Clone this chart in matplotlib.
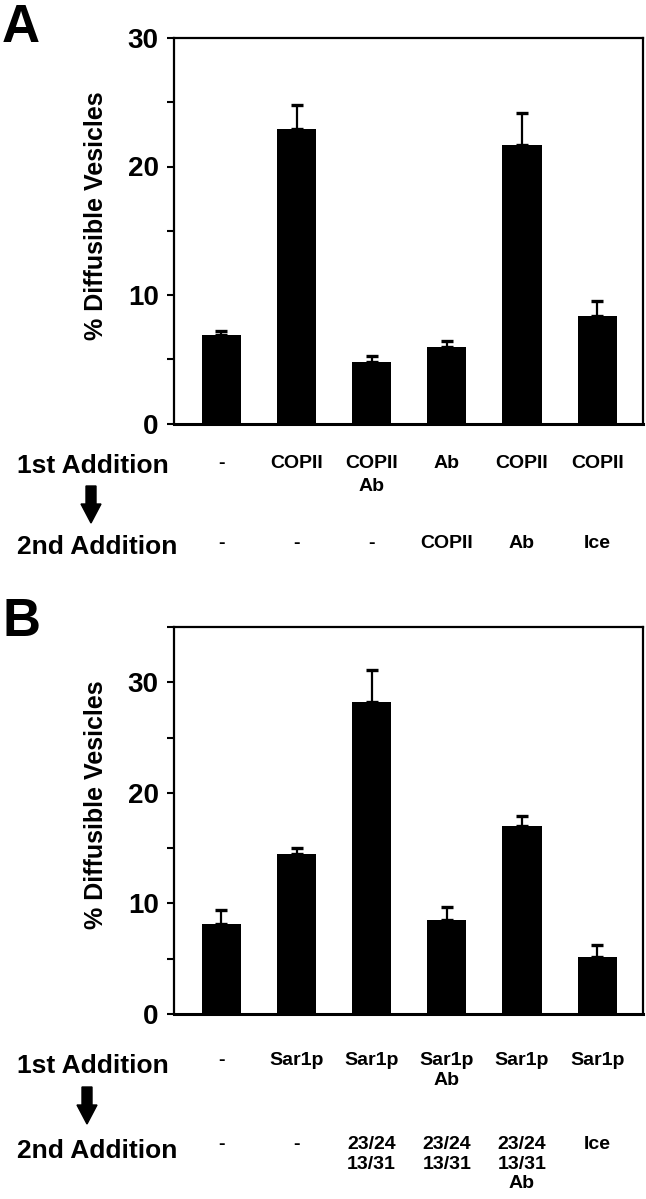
import matplotlib
matplotlib.use("Agg")
import matplotlib.pyplot as plt
import matplotlib.transforms as mtransforms
from matplotlib.patches import FancyArrow

plt.rcParams["font.family"] = ["Liberation Sans", "DejaVu Sans"]
plt.rcParams["font.weight"] = "bold"

# ---- data
a_vals = [6.9, 22.9, 4.8, 5.95, 21.65, 8.4]
a_err = [0.26, 1.86, 0.49, 0.44, 2.5, 1.1]
a_first = ["-", "COPII", "COPII\nAb", "Ab", "COPII", "COPII"]
a_second = ["-", "-", "-", "COPII", "Ab", "Ice"]

b_vals = [8.15, 14.45, 28.2, 8.5, 17.0, 5.2]
b_err = [1.27, 0.52, 2.9, 1.21, 0.94, 1.06]
b_first = ["-", "Sar1p", "Sar1p", "Sar1p\nAb", "Sar1p", "Sar1p"]
b_second = ["-", "-", "23/24\n13/31", "23/24\n13/31", "23/24\n13/31\nAb", "Ice"]

W, H = 646, 1199
fig = plt.figure(figsize=(W / 100, H / 100), dpi=100)


def fy(py):
    # pixel row (from top) -> figure fraction
    return 1 - py / H


def panel(top, bottom, vals, err, ymax, first, second, rows_y, arrow_x, arrow_y, letter, letter_y, lsp):
    ax = fig.add_axes([174 / W, fy(bottom), (643 - 174) / W, (bottom - top) / H])
    x = list(range(len(vals)))
    ax.bar(x, vals, width=0.52, color="black", zorder=2)
    ax.errorbar(x, vals, yerr=[[0] * len(err), err], fmt="none", ecolor="black",
                elinewidth=1.6, capsize=4, capthick=2.4, zorder=3)
    ax.set_xlim(-0.63, 5.61)
    ax.set_ylim(0, ymax)
    ax.set_yticks(range(0, ymax + 1, 5))
    ax.set_yticklabels([str(v) if v % 10 == 0 else "" for v in range(0, ymax + 1, 5)])
    ax.tick_params(axis="y", direction="out", length=5, width=1.5, pad=6, labelsize=20)
    ax.tick_params(axis="x", length=0, labelbottom=False)
    for s in ["left", "right", "top"]:
        ax.spines[s].set_linewidth(1.6)
    ax.spines["bottom"].set_linewidth(2.2)
    ax.set_ylabel("% Diffusible Vesicles", fontsize=18, fontweight="bold")
    ax.yaxis.set_label_coords(-0.14, 0.54)

    tr = mtransforms.blended_transform_factory(ax.transData, fig.transFigure)
    r1_title, r1_top, r2_title, r2_top = rows_y
    fig.text(17 / W, fy(r1_title), "1st Addition", fontsize=19, fontweight="bold", va="baseline")
    fig.text(17 / W, fy(r2_title), "2nd Addition", fontsize=19, fontweight="bold", va="baseline")
    for i, (t1, t2) in enumerate(zip(first, second)):
        ax.text(i, fy(r1_top), t1, transform=tr, ha="center", va="top", fontsize=14,
                fontweight="bold", linespacing=lsp)
        ax.text(i, fy(r2_top), t2, transform=tr, ha="center", va="top", fontsize=14,
                fontweight="bold", linespacing=lsp)

    y0, y1 = arrow_y
    fig.patches.append(FancyArrow(arrow_x / 100, (H - y0) / 100, 0, -(y1 - y0) / 100,
                                  width=0.1, head_width=0.2, head_length=0.19,
                                  length_includes_head=True, color="black",
                                  transform=fig.dpi_scale_trans, figure=fig))
    fig.text(2 / W, fy(letter_y), letter, fontsize=38, fontweight="bold", va="baseline")
    return ax


panel(38, 423.5, a_vals, a_err, 30, a_first, a_second,
      (473, 455, 554, 535), 91, (486, 523), "A", 42, 1.45)
panel(627, 1014, b_vals, b_err, 35, b_first, b_second,
      (1073, 1052, 1158, 1136), 87, (1087, 1124), "B", 636, 1.2)

fig.savefig("out.png", dpi=100)
